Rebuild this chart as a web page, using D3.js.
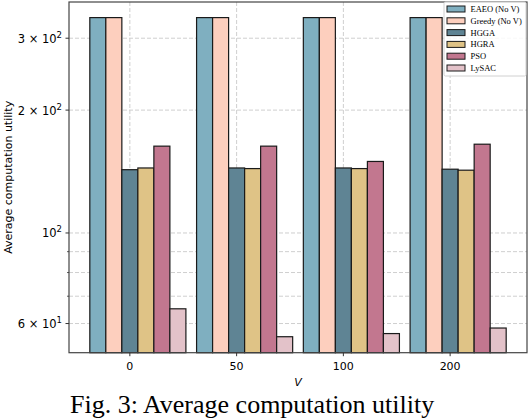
<!DOCTYPE html>
<html lang="en">
<head>
    <meta charset="UTF-8">
    <title>Average computation utility</title>
    <script src="https://d3js.org/d3.v7.min.js"></script>
    <style>
        body { margin: 0; background: #fff; }
        svg { display: block; }
    </style>
</head>
<body>
    <div id="chart"></div>
    <script>
        // Data
        const vValues = ["0", "50", "100", "200"];
        const seriesNames = ["EAEO (No V)", "Greedy (No V)", "HGGA", "HGRA", "PSO", "LySAC"];
        const eaeo   = [337, 337, 337, 337];
        const greedy = [337, 337, 337, 337];
        const hgga   = [142.9, 144.3, 144.3, 143.3];
        const hgra   = [144.3, 143.8, 143.8, 142.5];
        const pso    = [163.2, 163.2, 149.7, 165.0];
        const lysac  = [65.2, 55.7, 56.7, 58.5];
        const seriesValues = [eaeo, greedy, hgga, hgra, pso, lysac];
        const majorTicks = [60, 100, 200, 300];
        const minorTicks = [70, 80, 90];

        const colors = ["#7fafc0", "#fdcfbe", "#5f8494", "#dfc386", "#c2778f", "#e3c2c9"];

        const width = 528, height = 420;
        const plotL = 69, plotR = 527, plotT = 2, plotB = 352.7;
        const barW = 0.15;

        const svg = d3.select("#chart").append("svg")
            .attr("width", width)
            .attr("height", height);

        const x = d3.scaleLinear().domain([-0.57, 3.72]).range([plotL, plotR]);
        const y = d3.scaleLog().domain([50.9, 368]).range([plotB, plotT]);

        // grid
        const grid = svg.append("g").attr("stroke", "#cfcfcf").attr("stroke-width", 1)
            .attr("stroke-dasharray", "4,2");
        grid.selectAll(".hg").data(majorTicks.concat(minorTicks)).enter().append("line")
            .attr("x1", plotL).attr("x2", plotR)
            .attr("y1", d => y(d)).attr("y2", d => y(d));
        grid.selectAll(".vg").data(vValues).enter().append("line")
            .attr("x1", (d, i) => x(i)).attr("x2", (d, i) => x(i))
            .attr("y1", plotT).attr("y2", plotB);

        // bars
        seriesValues.forEach((vals, s) => {
            svg.append("g").selectAll("rect").data(vals).enter().append("rect")
                .attr("x", (d, i) => x(i + (s - 2) * barW - barW / 2))
                .attr("width", x(barW) - x(0))
                .attr("y", d => y(d))
                .attr("height", d => plotB - y(d))
                .attr("fill", colors[s])
                .attr("stroke", "#1a1a1a")
                .attr("stroke-width", 1.2);
        });

        // frame
        svg.append("rect")
            .attr("x", plotL).attr("y", plotT)
            .attr("width", plotR - plotL).attr("height", plotB - plotT)
            .attr("fill", "none").attr("stroke", "#444").attr("stroke-width", 1.2);

        // y ticks
        const yt = svg.append("g").attr("font-family", "DejaVu Sans").attr("font-size", 11.5).attr("fill", "#000");
        majorTicks.forEach(t => {
            svg.append("line").attr("x1", plotL - 3.5).attr("x2", plotL)
                .attr("y1", y(t)).attr("y2", y(t)).attr("stroke", "#333").attr("stroke-width", 1);
            const txt = yt.append("text").attr("x", plotL - 7).attr("y", y(t) + 4.5)
                .attr("text-anchor", "end");
            const ex = Math.floor(Math.log10(t));
            const base = Math.round(t / Math.pow(10, ex));
            txt.append("tspan").text(base === 1 ? "10" : base + " \u00d7 10");
            txt.append("tspan").attr("dy", -5).attr("font-size", 8.5).text(ex);
        });
        minorTicks.forEach(t => {
            svg.append("line").attr("x1", plotL - 2).attr("x2", plotL)
                .attr("y1", y(t)).attr("y2", y(t)).attr("stroke", "#333").attr("stroke-width", 0.8);
        });

        // x ticks
        vValues.forEach((v, i) => {
            svg.append("line").attr("x1", x(i)).attr("x2", x(i))
                .attr("y1", plotB).attr("y2", plotB + 3.5).attr("stroke", "#333");
            svg.append("text").attr("x", x(i)).attr("y", plotB + 17)
                .attr("text-anchor", "middle")
                .attr("font-family", "DejaVu Sans").attr("font-size", 11)
                .text(v);
        });

        // axis labels
        svg.append("text").attr("x", (plotL + plotR) / 2).attr("y", 386)
            .attr("text-anchor", "middle")
            .attr("font-family", "DejaVu Sans").attr("font-size", 11).attr("font-style", "italic")
            .text("V");
        svg.append("text")
            .attr("transform", `translate(12, ${(plotT + plotB) / 2}) rotate(-90)`)
            .attr("text-anchor", "middle")
            .attr("font-family", "DejaVu Sans").attr("font-size", 11)
            .text("Average computation utility");

        // legend
        const lg = svg.append("g");
        lg.append("rect").attr("x", 444).attr("y", 2).attr("width", 82).attr("height", 74)
            .attr("fill", "#fff").attr("fill-opacity", 0.85)
            .attr("stroke", "#d0d0d0").attr("stroke-width", 1).attr("rx", 1.5);
        seriesNames.forEach((n, i) => {
            const cy = 9 + i * 11.8;
            lg.append("rect").attr("x", 447).attr("y", cy - 3).attr("width", 18).attr("height", 6)
                .attr("fill", colors[i]).attr("stroke", "#1a1a1a").attr("stroke-width", 1);
            lg.append("text").attr("x", 470.5).attr("y", cy + 3)
                .attr("font-family", "Liberation Serif").attr("font-size", 8.5)
                .text(n);
        });

        // caption, kept fully inside the picture
        svg.append("text").attr("x", 70).attr("y", 413)
            .attr("font-family", "Liberation Serif").attr("font-size", 26)
            .text("Fig. 3: Average computation utility");
    </script>
</body>
</html>
